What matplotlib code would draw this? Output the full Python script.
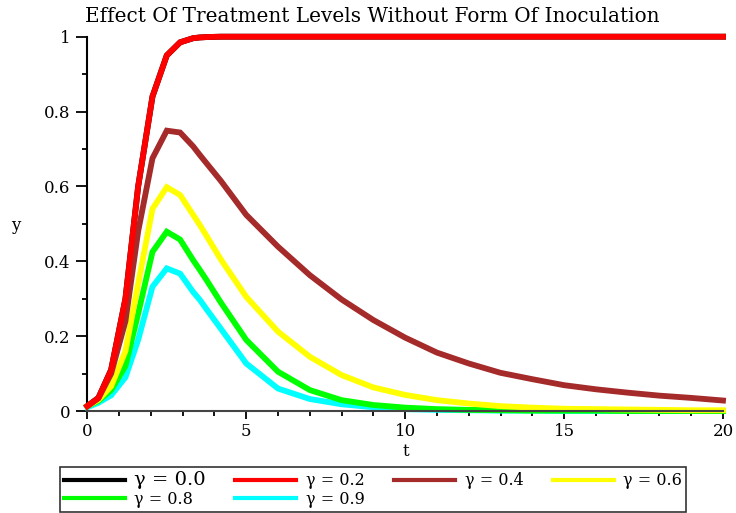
import matplotlib.pyplot as plt
from matplotlib.ticker import MultipleLocator

plt.rcParams['font.family'] = ['DejaVu Serif']

# time samples (coarse near the peak, as in the original solver output)
t = [0, 0.35, 0.75, 1.2, 1.6, 2.05, 2.5, 2.92, 3.33, 3.54, 3.75, 4.2, 5, 6, 7, 8,
     9, 10, 11, 12, 13, 14, 15, 16, 17, 18, 19, 20]

y_00 = [0.013, 0.035, 0.11, 0.30, 0.60, 0.84, 0.95, 0.985, 0.996, 0.998, 0.999, 1.0, 1.0, 1.0,
        1.0, 1.0, 1.0, 1.0, 1.0, 1.0, 1.0, 1.0, 1.0, 1.0, 1.0, 1.0, 1.0, 1.0]
y_02 = list(y_00)
y_04 = [0.013, 0.034, 0.10, 0.24, 0.48, 0.675, 0.749, 0.744, 0.707, 0.684, 0.662, 0.615, 0.524,
        0.439, 0.363, 0.298, 0.243, 0.196, 0.156, 0.127, 0.102, 0.085, 0.069, 0.058, 0.049,
        0.041, 0.035, 0.028]
y_06 = [0.013, 0.030, 0.066, 0.16, 0.34, 0.54, 0.598, 0.577, 0.524, 0.497, 0.468, 0.405, 0.305,
        0.212, 0.145, 0.096, 0.063, 0.043, 0.029, 0.020, 0.013, 0.009, 0.006, 0.005, 0.004,
        0.003, 0.002, 0.002]
y_08 = [0.013, 0.027, 0.056, 0.12, 0.26, 0.425, 0.479, 0.458, 0.403, 0.377, 0.350, 0.290, 0.190,
        0.105, 0.056, 0.029, 0.016, 0.009, 0.005, 0.003, 0.002, 0.001, 0.001, 0.001, 0.0,
        0.0, 0.0, 0.0]
y_09 = [0.010, 0.022, 0.042, 0.09, 0.19, 0.332, 0.381, 0.367, 0.318, 0.297, 0.272, 0.220, 0.127,
        0.060, 0.032, 0.018, 0.010, 0.005, 0.003, 0.002, 0.001, 0.001, 0.0, 0.0, 0.0,
        0.0, 0.0, 0.0]

series = [
    (y_00, 'black', 'γ = 0.0'),
    (y_02, '#ff0000', 'γ = 0.2'),
    (y_04, '#a52a2a', 'γ = 0.4'),
    (y_06, '#ffff00', 'γ = 0.6'),
    (y_08, '#00ff00', 'γ = 0.8'),
    (y_09, '#00ffff', 'γ = 0.9'),
]

fig = plt.figure(figsize=(7.36, 5.13), dpi=100)
ax = fig.add_axes([87.3 / 736, 1 - 411 / 513, (723 - 87.3) / 736, (411 - 36.7) / 513])

lines = {}
for y, c, lab in reversed(series):
    ln, = ax.plot(t, y, color=c, lw=4.2, solid_joinstyle='miter', label=lab, clip_on=False)
    lines[lab] = ln
# black curve sits under the red one
lines[series[0][2]].set_zorder(1)
lines[series[1][2]].set_zorder(3)

ax.set_xlim(0, 20)
ax.set_ylim(0, 1)
ax.set_xticks([0, 5, 10, 15, 20])
ax.set_xticklabels(['0', '5', '10', '15', '20'])
ax.set_yticks([0, 0.2, 0.4, 0.6, 0.8, 1.0])
ax.set_yticklabels(['0', '0.2', '0.4', '0.6', '0.8', '1'])
ax.xaxis.set_minor_locator(MultipleLocator(1))
ax.yaxis.set_minor_locator(MultipleLocator(0.1))
ax.tick_params(axis='x', which='major', direction='out', length=6, width=1.3,
               labelsize=12, pad=2.5)
ax.tick_params(axis='y', which='major', direction='out', length=8, width=1.3,
               labelsize=12, pad=4)
ax.tick_params(axis='both', which='minor', direction='out', length=3.5, width=1.3)
ax.spines['top'].set_visible(False)
ax.spines['right'].set_visible(False)
ax.spines['left'].set_linewidth(1.5)
ax.spines['bottom'].set_linewidth(1.5)
ax.spines['bottom'].set_color('#444444')
ax.spines['left'].set_zorder(0)

fig.text(372 / 736, 1 - 17 / 513, 'Effect Of Treatment Levels Without Form Of Inoculation',
         ha='center', va='center', fontsize=14.4)
fig.text(406 / 736, 1 - 452 / 513, 't', ha='center', va='center', fontsize=12)
fig.text(16 / 736, 1 - 225 / 513, 'y', ha='center', va='center', fontsize=12)

# row-wise order for a 4-column legend (matplotlib fills column by column)
order = [0, 4, 1, 5, 2, 3]
handles = [lines[series[i][2]] for i in order]
labels = [series[i][2] for i in order]
leg = fig.legend(handles, labels, loc='lower left', ncol=4,
                 bbox_to_anchor=(60 / 736, 1 / 513, 626 / 736, 53 / 513), mode='expand',
                 frameon=True, fancybox=False, edgecolor='black', fontsize=11.5,
                 handlelength=3.8, handletextpad=0.6, borderpad=0.25,
                 labelspacing=0.1, columnspacing=1.0, borderaxespad=0)
leg.get_frame().set_linewidth(1.2)
leg.get_texts()[0].set_fontsize(14)
for h in leg.legend_handles:
    h.set_linewidth(3)

fig.savefig('out.png', dpi=100, facecolor='white')
